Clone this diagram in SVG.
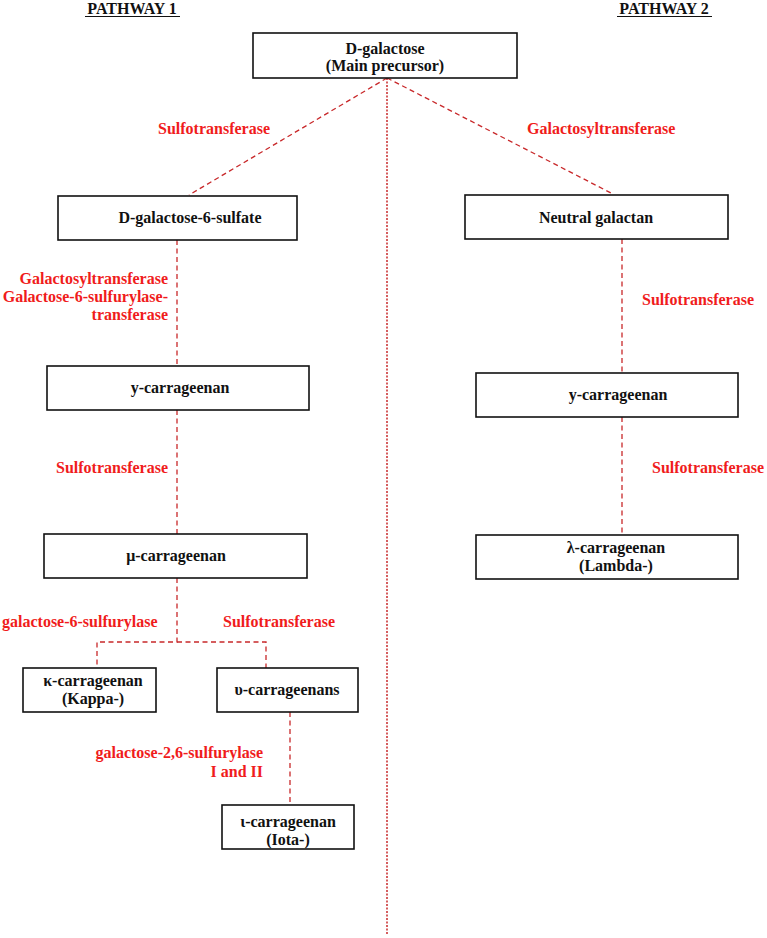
<svg xmlns="http://www.w3.org/2000/svg" width="767" height="938" viewBox="0 0 767 938">
<style>
.box{fill:#fff;stroke:#111;stroke-width:1.6}
.t{font-family:"Liberation Serif","Times New Roman",serif;font-weight:bold;font-size:16px;fill:#111;text-anchor:middle}
.r{font-family:"Liberation Serif","Times New Roman",serif;font-weight:bold;font-size:16px;fill:#f01c1c}
.c{fill:none;stroke:#c8282a;stroke-width:1.3;stroke-dasharray:5 3.5}
.d{fill:none;stroke:#c8282a;stroke-width:1.5;stroke-dasharray:2 1.5}
</style>
<rect width="767" height="938" fill="#fff"/>
<g id="headers">
<text class="t" x="132" y="14">PATHWAY 1</text>
<line x1="85" y1="16.5" x2="180" y2="16.5" stroke="#111" stroke-width="1.2"/>
<text class="t" x="664" y="14">PATHWAY 2</text>
<line x1="617" y1="16.5" x2="712" y2="16.5" stroke="#111" stroke-width="1.2"/>
</g>
<g id="connectors">
<line class="d" x1="387" y1="78" x2="387" y2="934"/>
<line class="c" x1="387" y1="78" x2="189" y2="195"/>
<line class="c" x1="387" y1="78" x2="613" y2="194"/>
<line class="c" x1="177" y1="240" x2="177" y2="366"/>
<line class="c" x1="177" y1="410" x2="177" y2="534"/>
<polyline class="c" points="177,578 177,642 97,642 97,668"/>
<polyline class="c" points="177,642 266,642 266,668"/>
<line class="c" x1="290" y1="712" x2="290" y2="805"/>
<line class="c" x1="622" y1="239" x2="622" y2="373"/>
<line class="c" x1="622" y1="417" x2="622" y2="535"/>
</g>
<g id="labels">
<text class="r" x="158" y="134">Sulfotransferase</text>
<text class="r" x="527" y="134">Galactosyltransferase</text>
<text class="r" x="168" y="284" text-anchor="end">Galactosyltransferase</text>
<text class="r" x="168" y="302" text-anchor="end">Galactose-6-sulfurylase-</text>
<text class="r" x="168" y="320" text-anchor="end">transferase</text>
<text class="r" x="168" y="473" text-anchor="end">Sulfotransferase</text>
<text class="r" x="2" y="627">galactose-6-sulfurylase</text>
<text class="r" x="223" y="627">Sulfotransferase</text>
<text class="r" x="263" y="758" text-anchor="end">galactose-2,6-sulfurylase</text>
<text class="r" x="263" y="777" text-anchor="end">I and II</text>
<text class="r" x="642" y="305">Sulfotransferase</text>
<text class="r" x="652" y="473">Sulfotransferase</text>
</g>
<g id="n-dgal">
<rect class="box" x="253" y="33" width="264" height="45"/>
<text class="t" x="385" y="54">D-galactose</text>
<text class="t" x="385" y="71">(Main precursor)</text>
</g>
<g id="n-d6s">
<rect class="box" x="58" y="196" width="239" height="44"/>
<text class="t" x="190" y="223">D-galactose-6-sulfate</text>
</g>
<g id="n-y1">
<rect class="box" x="47" y="366" width="262" height="44"/>
<text class="t" x="180" y="393">y-carrageenan</text>
</g>
<g id="n-mu">
<rect class="box" x="44" y="534" width="263" height="44"/>
<text class="t" x="176" y="561">μ-carrageenan</text>
</g>
<g id="n-kappa">
<rect class="box" x="23" y="668" width="133" height="44"/>
<text class="t" x="93" y="686">κ-carrageenan</text>
<text class="t" x="93" y="704">(Kappa-)</text>
</g>
<g id="n-nu">
<rect class="box" x="217" y="668" width="141" height="44"/>
<text class="t" x="287" y="695">υ-carrageenans</text>
</g>
<g id="n-iota">
<rect class="box" x="222" y="805" width="132" height="44"/>
<text class="t" x="288" y="827">ι-carrageenan</text>
<text class="t" x="288" y="845">(Iota-)</text>
</g>
<g id="n-neutral">
<rect class="box" x="465" y="195" width="263" height="44"/>
<text class="t" x="596" y="223">Neutral galactan</text>
</g>
<g id="n-y2">
<rect class="box" x="476" y="373" width="262" height="44"/>
<text class="t" x="618" y="400">y-carrageenan</text>
</g>
<g id="n-lambda">
<rect class="box" x="476" y="535" width="262" height="44"/>
<text class="t" x="616" y="553">λ-carrageenan</text>
<text class="t" x="616" y="571">(Lambda-)</text>
</g>
</svg>
